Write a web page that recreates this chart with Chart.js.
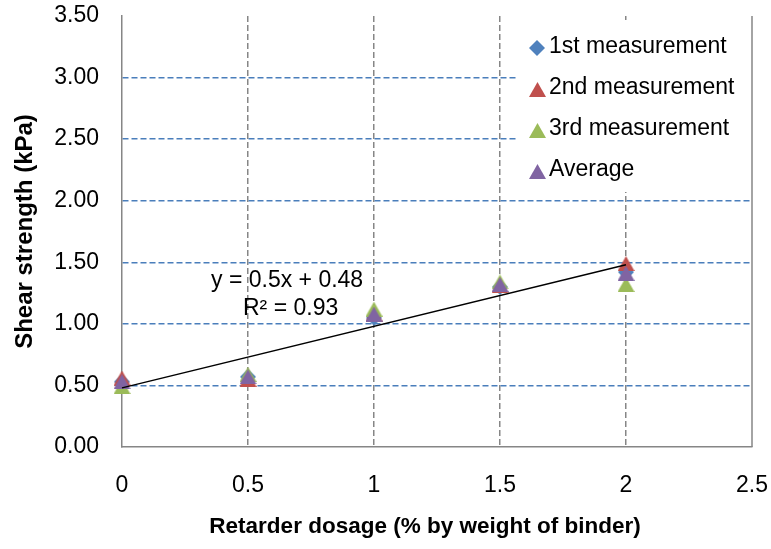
<!DOCTYPE html>
<html>
<head>
<meta charset="utf-8">
<script src="https://cdn.jsdelivr.net/npm/chart.js@4/dist/chart.umd.min.js"></script>
<style>
  html, body { margin: 0; padding: 0; background: #ffffff; }
  #wrap { width: 771px; height: 549px; }
</style>
</head>
<body>
<div id="wrap"><canvas id="c" width="771" height="549"></canvas></div>
<script>
// Shear strength readings per retarder dosage
const dosage  = [0, 0.5, 1, 1.5, 2];
const first   = [0.53, 0.57, 1.05, 1.30, 1.42];
const second  = [0.56, 0.55, 1.08, 1.31, 1.49];
const third   = [0.49, 0.59, 1.12, 1.34, 1.32];
const average = [0.53, 0.57, 1.08, 1.32, 1.41];

// Linear fit of the averages: y = 0.5x + 0.48
const trendX = [0, 2];
const trendY = [0.48, 1.48];
const trendText = ['y = 0.5x + 0.48', 'R\u00B2 = 0.93'];

const xTicks = [0, 0.5, 1, 1.5, 2, 2.5];
const yTicks = [0, 0.5, 1, 1.5, 2, 2.5, 3, 3.5];
const seriesNames = ['1st measurement', '2nd measurement', '3rd measurement', 'Average'];
const xTitle = 'Retarder dosage (% by weight of binder)';
const yTitle = 'Shear strength (kPa)';

const FONT = '"Liberation Sans", Arial, sans-serif';
const AXIS_GREY = '#868686';
const GRID_BLUE = '#4A7EBB';
const NONE = 'rgba(0,0,0,0)';

const toPoints = (xs, ys) => xs.map((x, i) => ({ x: x, y: ys[i] }));

// grid colours per tick: no line on the frame edges
const xGridColors = xTicks.map((v, i) => (i === 0 || i === xTicks.length - 1) ? NONE : AXIS_GREY);
const yGridColors = yTicks.map((v, i) => (i === 0 || i === yTicks.length - 1) ? NONE : GRID_BLUE);

// Marker sprites, centred on their bounding box
function makeSprite(shape, w, h, color) {
  const c = document.createElement('canvas');
  c.width = w; c.height = h;
  const g = c.getContext('2d');
  g.fillStyle = color;
  g.beginPath();
  if (shape === 'diamond') {
    g.moveTo(w / 2, 0); g.lineTo(w, h / 2); g.lineTo(w / 2, h); g.lineTo(0, h / 2);
  } else {
    g.moveTo(w / 2, 0); g.lineTo(w, h); g.lineTo(0, h);
  }
  g.closePath();
  g.fill();
  return c;
}

const seriesStyle = [
  { color: '#4F81BD', shape: 'diamond',  w: 16, h: 16, order: 3 },
  { color: '#C0504D', shape: 'triangle', w: 17, h: 15, order: 2 },
  { color: '#9BBB59', shape: 'triangle', w: 17, h: 15, order: 1 },
  { color: '#8064A2', shape: 'triangle', w: 17, h: 15, order: 0 }
];
const sprites = seriesStyle.map(s => makeSprite(s.shape, s.w, s.h, s.color));
const seriesValues = [first, second, third, average];

const datasets = seriesValues.map((vals, i) => ({
  label: seriesNames[i],
  data: toPoints(dosage, vals),
  showLine: false,
  pointStyle: sprites[i],
  pointRadius: 8,
  pointHoverRadius: 8,
  backgroundColor: seriesStyle[i].color,
  borderColor: seriesStyle[i].color,
  borderWidth: 0,
  clip: false,
  order: seriesStyle[i].order
}));

datasets.push({
  label: 'trend',
  type: 'line',
  data: toPoints(trendX, trendY),
  borderColor: '#000000',
  borderWidth: 1.5,
  pointRadius: 0,
  fill: false,
  clip: false,
  order: -1
});

const decorations = {
  id: 'decorations',
  beforeDatasetsDraw(chart) {
    // white legend panel over the grid
    const ctx = chart.ctx;
    const area = chart.chartArea;
    ctx.save();
    ctx.fillStyle = '#ffffff';
    ctx.fillRect(517, area.top + 4, area.right - 517 - 1, 172);
    ctx.restore();
  },
  afterDraw(chart) {
    const ctx = chart.ctx;
    const area = chart.chartArea;

    // right frame line
    ctx.save();
    ctx.strokeStyle = AXIS_GREY;
    ctx.lineWidth = 1.5;
    ctx.beginPath();
    ctx.moveTo(area.right, area.top);
    ctx.lineTo(area.right, area.bottom);
    ctx.stroke();
    ctx.restore();

    // legend
    ctx.save();
    ctx.font = '23px ' + FONT;
    ctx.fillStyle = '#000000';
    ctx.textBaseline = 'middle';
    ctx.textAlign = 'left';
    const rows = [47, 88, 129, 170];
    seriesNames.forEach((name, i) => {
      const sp = sprites[i];
      ctx.drawImage(sp, Math.round(537 - sp.width / 2), Math.round(rows[i] + 1 - sp.height / 2));
      ctx.fillText(name, 549, rows[i]);
    });

    // trendline equation
    ctx.fillText(trendText[0], 211, 281);
    ctx.fillText(trendText[1], 243, 309);

    // horizontal axis title
    ctx.font = 'bold 22.5px ' + FONT;
    ctx.textAlign = 'center';
    ctx.fillText(xTitle, 425, 527);
    ctx.restore();
  }
};

new Chart(document.getElementById('c'), {
  type: 'scatter',
  data: { datasets: datasets },
  options: {
    responsive: false,
    devicePixelRatio: 1,
    animation: false,
    layout: { padding: { top: 16, right: 19, left: 0, bottom: 0 } },
    plugins: {
      legend: { display: false },
      tooltip: { enabled: false }
    },
    scales: {
      x: {
        type: 'linear',
        min: 0,
        max: 2.5,
        afterBuildTicks: s => { s.ticks = xTicks.map(v => ({ value: v })); },
        afterFit: s => {
          s.height = 102;
          s.paddingLeft = 0; s.paddingRight = 0;
        },
        ticks: {
          color: '#000000',
          font: { family: FONT, size: 23 },
          padding: 25,
          callback: v => String(v)
        },
        grid: {
          drawTicks: false,
          lineWidth: 1.5,
          color: xGridColors
        },
        border: { display: true, color: AXIS_GREY, width: 1.5, dash: [6, 3] },
        title: { display: false }
      },
      y: {
        type: 'linear',
        min: 0,
        max: 3.5,
        afterBuildTicks: s => { s.ticks = yTicks.map(v => ({ value: v })); },
        afterFit: s => {
          s.width = 122;
          s.paddingTop = 0; s.paddingBottom = 0;
        },
        ticks: {
          color: '#000000',
          font: { family: FONT, size: 23 },
          padding: 23,
          callback: v => Number(v).toFixed(2)
        },
        grid: {
          drawTicks: false,
          lineWidth: 1.5,
          color: yGridColors
        },
        border: { display: true, color: AXIS_GREY, width: 1.5, dash: [6, 3] },
        title: {
          display: true,
          text: yTitle,
          color: '#000000',
          font: { family: FONT, size: 24, weight: 'bold' },
          padding: { top: 11, bottom: 0 }
        }
      }
    }
  },
  plugins: [decorations]
});
</script>
</body>
</html>
